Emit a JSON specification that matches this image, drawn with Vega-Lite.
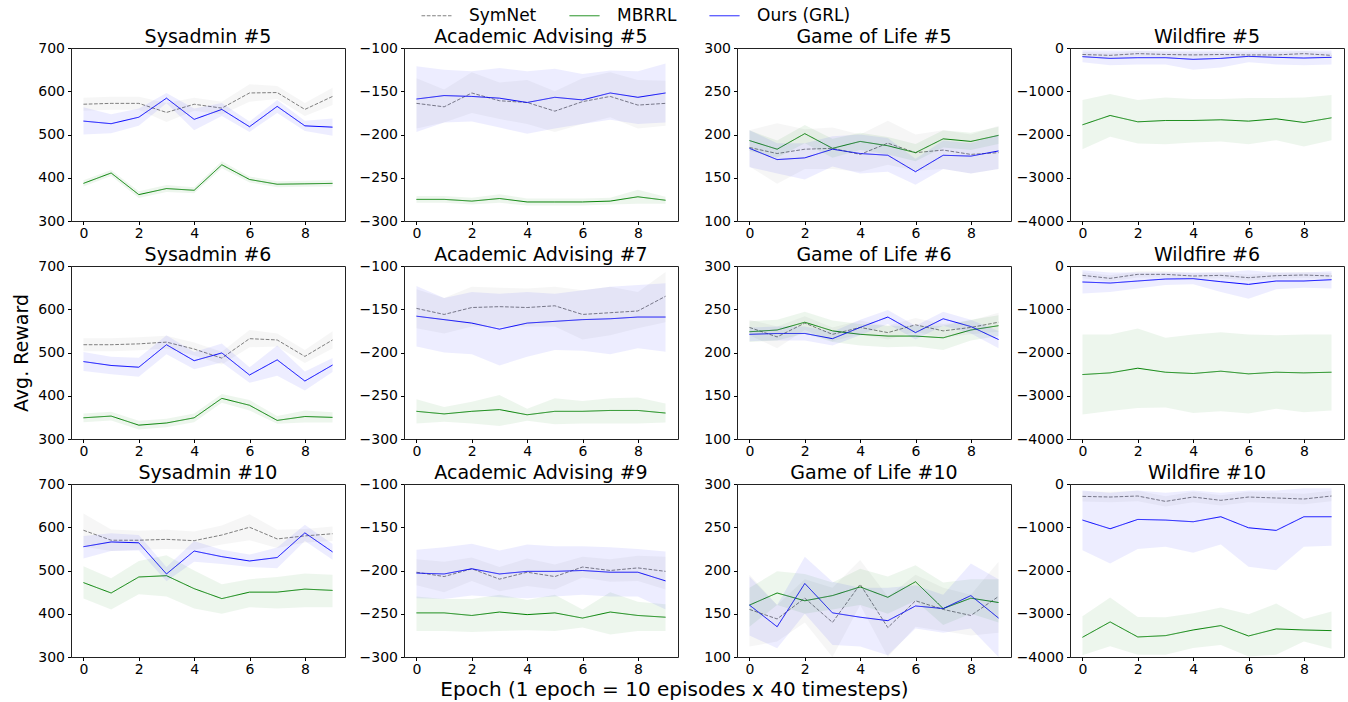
{
"$schema": "https://vega.github.io/schema/vega-lite/v6.json",
"padding": {"left": 12, "top": 0, "right": 5, "bottom": 0},
"config": {
  "font": "DejaVu Sans",
  "view": {"stroke": "#222", "strokeWidth": 1},
  "axis": {"domain": false, "grid": false, "tickColor": "#000", "tickSize": 3.5, "labelFontSize": 14, "labelColor": "#000", "labelPadding": 3, "titleFontSize": 19, "titleFontWeight": "normal", "titleColor": "#000", "format": "d"},
  "axisX": {"labelPadding": 2},
  "title": {"fontSize": 19, "fontWeight": "normal", "offset": -6, "color": "#000", "frame": "group"}
},
"data": {"values": [
{"p":"Sysadmin #5","m":"SymNet","e":0,"v":570,"lo":555,"hi":585},
{"p":"Sysadmin #5","m":"SymNet","e":1,"v":572,"lo":557,"hi":587},
{"p":"Sysadmin #5","m":"SymNet","e":2,"v":572,"lo":557,"hi":587},
{"p":"Sysadmin #5","m":"SymNet","e":3,"v":551,"lo":529,"hi":573},
{"p":"Sysadmin #5","m":"SymNet","e":4,"v":570,"lo":555,"hi":585},
{"p":"Sysadmin #5","m":"SymNet","e":5,"v":561,"lo":546,"hi":576},
{"p":"Sysadmin #5","m":"SymNet","e":6,"v":596,"lo":576,"hi":616},
{"p":"Sysadmin #5","m":"SymNet","e":7,"v":597,"lo":582,"hi":612},
{"p":"Sysadmin #5","m":"SymNet","e":8,"v":558,"lo":543,"hi":573},
{"p":"Sysadmin #5","m":"SymNet","e":9,"v":588,"lo":568,"hi":608},
{"p":"Sysadmin #5","m":"MBRRL","e":0,"v":387,"lo":380,"hi":394},
{"p":"Sysadmin #5","m":"MBRRL","e":1,"v":411,"lo":404,"hi":418},
{"p":"Sysadmin #5","m":"MBRRL","e":2,"v":361,"lo":353,"hi":369},
{"p":"Sysadmin #5","m":"MBRRL","e":3,"v":375,"lo":367,"hi":383},
{"p":"Sysadmin #5","m":"MBRRL","e":4,"v":371,"lo":364,"hi":378},
{"p":"Sysadmin #5","m":"MBRRL","e":5,"v":430,"lo":422,"hi":438},
{"p":"Sysadmin #5","m":"MBRRL","e":6,"v":396,"lo":389,"hi":403},
{"p":"Sysadmin #5","m":"MBRRL","e":7,"v":385,"lo":378,"hi":392},
{"p":"Sysadmin #5","m":"MBRRL","e":8,"v":386,"lo":379,"hi":393},
{"p":"Sysadmin #5","m":"MBRRL","e":9,"v":387,"lo":380,"hi":394},
{"p":"Sysadmin #5","m":"Ours (GRL)","e":0,"v":531,"lo":500,"hi":563},
{"p":"Sysadmin #5","m":"Ours (GRL)","e":1,"v":525,"lo":503,"hi":547},
{"p":"Sysadmin #5","m":"Ours (GRL)","e":2,"v":540,"lo":520,"hi":560},
{"p":"Sysadmin #5","m":"Ours (GRL)","e":3,"v":584,"lo":572,"hi":596},
{"p":"Sysadmin #5","m":"Ours (GRL)","e":4,"v":535,"lo":510,"hi":560},
{"p":"Sysadmin #5","m":"Ours (GRL)","e":5,"v":558,"lo":543,"hi":573},
{"p":"Sysadmin #5","m":"Ours (GRL)","e":6,"v":518,"lo":506,"hi":530},
{"p":"Sysadmin #5","m":"Ours (GRL)","e":7,"v":565,"lo":550,"hi":580},
{"p":"Sysadmin #5","m":"Ours (GRL)","e":8,"v":520,"lo":508,"hi":532},
{"p":"Sysadmin #5","m":"Ours (GRL)","e":9,"v":517,"lo":497,"hi":537},
{"p":"Academic Advising #5","m":"SymNet","e":0,"v":-164,"lo":-193,"hi":-135},
{"p":"Academic Advising #5","m":"SymNet","e":1,"v":-168,"lo":-186,"hi":-148},
{"p":"Academic Advising #5","m":"SymNet","e":2,"v":-152,"lo":-175,"hi":-128},
{"p":"Academic Advising #5","m":"SymNet","e":3,"v":-161,"lo":-182,"hi":-140},
{"p":"Academic Advising #5","m":"SymNet","e":4,"v":-163,"lo":-188,"hi":-137},
{"p":"Academic Advising #5","m":"SymNet","e":5,"v":-173,"lo":-197,"hi":-150},
{"p":"Academic Advising #5","m":"SymNet","e":6,"v":-162,"lo":-188,"hi":-135},
{"p":"Academic Advising #5","m":"SymNet","e":7,"v":-156,"lo":-180,"hi":-128},
{"p":"Academic Advising #5","m":"SymNet","e":8,"v":-166,"lo":-193,"hi":-137},
{"p":"Academic Advising #5","m":"SymNet","e":9,"v":-164,"lo":-190,"hi":-138},
{"p":"Academic Advising #5","m":"MBRRL","e":0,"v":-275,"lo":-279,"hi":-271},
{"p":"Academic Advising #5","m":"MBRRL","e":1,"v":-275,"lo":-279,"hi":-271},
{"p":"Academic Advising #5","m":"MBRRL","e":2,"v":-277,"lo":-281,"hi":-273},
{"p":"Academic Advising #5","m":"MBRRL","e":3,"v":-274,"lo":-279,"hi":-269},
{"p":"Academic Advising #5","m":"MBRRL","e":4,"v":-278,"lo":-282,"hi":-274},
{"p":"Academic Advising #5","m":"MBRRL","e":5,"v":-278,"lo":-282,"hi":-274},
{"p":"Academic Advising #5","m":"MBRRL","e":6,"v":-278,"lo":-282,"hi":-274},
{"p":"Academic Advising #5","m":"MBRRL","e":7,"v":-277,"lo":-281,"hi":-273},
{"p":"Academic Advising #5","m":"MBRRL","e":8,"v":-272,"lo":-280,"hi":-264},
{"p":"Academic Advising #5","m":"MBRRL","e":9,"v":-276,"lo":-280,"hi":-272},
{"p":"Academic Advising #5","m":"Ours (GRL)","e":0,"v":-159,"lo":-197,"hi":-121},
{"p":"Academic Advising #5","m":"Ours (GRL)","e":1,"v":-155,"lo":-186,"hi":-125},
{"p":"Academic Advising #5","m":"Ours (GRL)","e":2,"v":-156,"lo":-185,"hi":-127},
{"p":"Academic Advising #5","m":"Ours (GRL)","e":3,"v":-158,"lo":-192,"hi":-123},
{"p":"Academic Advising #5","m":"Ours (GRL)","e":4,"v":-163,"lo":-199,"hi":-127},
{"p":"Academic Advising #5","m":"Ours (GRL)","e":5,"v":-157,"lo":-193,"hi":-124},
{"p":"Academic Advising #5","m":"Ours (GRL)","e":6,"v":-160,"lo":-188,"hi":-130},
{"p":"Academic Advising #5","m":"Ours (GRL)","e":7,"v":-152,"lo":-183,"hi":-126},
{"p":"Academic Advising #5","m":"Ours (GRL)","e":8,"v":-157,"lo":-188,"hi":-127},
{"p":"Academic Advising #5","m":"Ours (GRL)","e":9,"v":-152,"lo":-186,"hi":-118},
{"p":"Game of Life #5","m":"SymNet","e":0,"v":185,"lo":163,"hi":205},
{"p":"Game of Life #5","m":"SymNet","e":1,"v":178,"lo":143,"hi":213},
{"p":"Game of Life #5","m":"SymNet","e":2,"v":183,"lo":160,"hi":206},
{"p":"Game of Life #5","m":"SymNet","e":3,"v":184,"lo":160,"hi":208},
{"p":"Game of Life #5","m":"SymNet","e":4,"v":177,"lo":157,"hi":200},
{"p":"Game of Life #5","m":"SymNet","e":5,"v":190,"lo":165,"hi":216},
{"p":"Game of Life #5","m":"SymNet","e":6,"v":179,"lo":158,"hi":200},
{"p":"Game of Life #5","m":"SymNet","e":7,"v":182,"lo":160,"hi":205},
{"p":"Game of Life #5","m":"SymNet","e":8,"v":177,"lo":155,"hi":200},
{"p":"Game of Life #5","m":"SymNet","e":9,"v":179,"lo":160,"hi":210},
{"p":"Game of Life #5","m":"MBRRL","e":0,"v":193,"lo":181,"hi":205},
{"p":"Game of Life #5","m":"MBRRL","e":1,"v":183,"lo":173,"hi":193},
{"p":"Game of Life #5","m":"MBRRL","e":2,"v":201,"lo":190,"hi":211},
{"p":"Game of Life #5","m":"MBRRL","e":3,"v":184,"lo":173,"hi":195},
{"p":"Game of Life #5","m":"MBRRL","e":4,"v":192,"lo":182,"hi":202},
{"p":"Game of Life #5","m":"MBRRL","e":5,"v":187,"lo":177,"hi":197},
{"p":"Game of Life #5","m":"MBRRL","e":6,"v":179,"lo":169,"hi":189},
{"p":"Game of Life #5","m":"MBRRL","e":7,"v":195,"lo":185,"hi":205},
{"p":"Game of Life #5","m":"MBRRL","e":8,"v":192,"lo":182,"hi":202},
{"p":"Game of Life #5","m":"MBRRL","e":9,"v":199,"lo":189,"hi":209},
{"p":"Game of Life #5","m":"Ours (GRL)","e":0,"v":184,"lo":162,"hi":205},
{"p":"Game of Life #5","m":"Ours (GRL)","e":1,"v":171,"lo":155,"hi":190},
{"p":"Game of Life #5","m":"Ours (GRL)","e":2,"v":173,"lo":148,"hi":190},
{"p":"Game of Life #5","m":"Ours (GRL)","e":3,"v":183,"lo":163,"hi":198},
{"p":"Game of Life #5","m":"Ours (GRL)","e":4,"v":178,"lo":155,"hi":200},
{"p":"Game of Life #5","m":"Ours (GRL)","e":5,"v":176,"lo":157,"hi":196},
{"p":"Game of Life #5","m":"Ours (GRL)","e":6,"v":157,"lo":142,"hi":172},
{"p":"Game of Life #5","m":"Ours (GRL)","e":7,"v":176,"lo":160,"hi":193},
{"p":"Game of Life #5","m":"Ours (GRL)","e":8,"v":175,"lo":155,"hi":190},
{"p":"Game of Life #5","m":"Ours (GRL)","e":9,"v":181,"lo":160,"hi":200},
{"p":"Wildfire #5","m":"SymNet","e":0,"v":-150,"lo":-210,"hi":-90},
{"p":"Wildfire #5","m":"SymNet","e":1,"v":-170,"lo":-230,"hi":-110},
{"p":"Wildfire #5","m":"SymNet","e":2,"v":-130,"lo":-190,"hi":-70},
{"p":"Wildfire #5","m":"SymNet","e":3,"v":-150,"lo":-210,"hi":-90},
{"p":"Wildfire #5","m":"SymNet","e":4,"v":-160,"lo":-220,"hi":-100},
{"p":"Wildfire #5","m":"SymNet","e":5,"v":-150,"lo":-210,"hi":-90},
{"p":"Wildfire #5","m":"SymNet","e":6,"v":-160,"lo":-220,"hi":-100},
{"p":"Wildfire #5","m":"SymNet","e":7,"v":-160,"lo":-220,"hi":-100},
{"p":"Wildfire #5","m":"SymNet","e":8,"v":-130,"lo":-190,"hi":-70},
{"p":"Wildfire #5","m":"SymNet","e":9,"v":-170,"lo":-230,"hi":-110},
{"p":"Wildfire #5","m":"MBRRL","e":0,"v":-1776,"lo":-2340,"hi":-1205},
{"p":"Wildfire #5","m":"MBRRL","e":1,"v":-1560,"lo":-2054,"hi":-1065},
{"p":"Wildfire #5","m":"MBRRL","e":2,"v":-1707,"lo":-2208,"hi":-1205},
{"p":"Wildfire #5","m":"MBRRL","e":3,"v":-1676,"lo":-2224,"hi":-1143},
{"p":"Wildfire #5","m":"MBRRL","e":4,"v":-1676,"lo":-2185,"hi":-1181},
{"p":"Wildfire #5","m":"MBRRL","e":5,"v":-1660,"lo":-2162,"hi":-1181},
{"p":"Wildfire #5","m":"MBRRL","e":6,"v":-1691,"lo":-2224,"hi":-1158},
{"p":"Wildfire #5","m":"MBRRL","e":7,"v":-1637,"lo":-2131,"hi":-1158},
{"p":"Wildfire #5","m":"MBRRL","e":8,"v":-1722,"lo":-2278,"hi":-1143},
{"p":"Wildfire #5","m":"MBRRL","e":9,"v":-1614,"lo":-2131,"hi":-1089},
{"p":"Wildfire #5","m":"Ours (GRL)","e":0,"v":-200,"lo":-330,"hi":-50},
{"p":"Wildfire #5","m":"Ours (GRL)","e":1,"v":-240,"lo":-400,"hi":-60},
{"p":"Wildfire #5","m":"Ours (GRL)","e":2,"v":-224,"lo":-380,"hi":-60},
{"p":"Wildfire #5","m":"Ours (GRL)","e":3,"v":-224,"lo":-380,"hi":-60},
{"p":"Wildfire #5","m":"Ours (GRL)","e":4,"v":-262,"lo":-500,"hi":-60},
{"p":"Wildfire #5","m":"Ours (GRL)","e":5,"v":-240,"lo":-450,"hi":-60},
{"p":"Wildfire #5","m":"Ours (GRL)","e":6,"v":-193,"lo":-330,"hi":-50},
{"p":"Wildfire #5","m":"Ours (GRL)","e":7,"v":-216,"lo":-380,"hi":-50},
{"p":"Wildfire #5","m":"Ours (GRL)","e":8,"v":-232,"lo":-400,"hi":-60},
{"p":"Wildfire #5","m":"Ours (GRL)","e":9,"v":-216,"lo":-380,"hi":-60},
{"p":"Sysadmin #6","m":"SymNet","e":0,"v":518,"lo":503,"hi":533},
{"p":"Sysadmin #6","m":"SymNet","e":1,"v":518,"lo":503,"hi":533},
{"p":"Sysadmin #6","m":"SymNet","e":2,"v":520,"lo":505,"hi":535},
{"p":"Sysadmin #6","m":"SymNet","e":3,"v":524,"lo":509,"hi":539},
{"p":"Sysadmin #6","m":"SymNet","e":4,"v":508,"lo":493,"hi":523},
{"p":"Sysadmin #6","m":"SymNet","e":5,"v":487,"lo":472,"hi":502},
{"p":"Sysadmin #6","m":"SymNet","e":6,"v":532,"lo":512,"hi":552},
{"p":"Sysadmin #6","m":"SymNet","e":7,"v":529,"lo":514,"hi":544},
{"p":"Sysadmin #6","m":"SymNet","e":8,"v":491,"lo":476,"hi":506},
{"p":"Sysadmin #6","m":"SymNet","e":9,"v":529,"lo":509,"hi":549},
{"p":"Sysadmin #6","m":"MBRRL","e":0,"v":349,"lo":339,"hi":359},
{"p":"Sysadmin #6","m":"MBRRL","e":1,"v":353,"lo":343,"hi":363},
{"p":"Sysadmin #6","m":"MBRRL","e":2,"v":332,"lo":322,"hi":342},
{"p":"Sysadmin #6","m":"MBRRL","e":3,"v":337,"lo":327,"hi":347},
{"p":"Sysadmin #6","m":"MBRRL","e":4,"v":349,"lo":339,"hi":359},
{"p":"Sysadmin #6","m":"MBRRL","e":5,"v":394,"lo":384,"hi":404},
{"p":"Sysadmin #6","m":"MBRRL","e":6,"v":378,"lo":366,"hi":390},
{"p":"Sysadmin #6","m":"MBRRL","e":7,"v":343,"lo":335,"hi":353},
{"p":"Sysadmin #6","m":"MBRRL","e":8,"v":352,"lo":338,"hi":366},
{"p":"Sysadmin #6","m":"MBRRL","e":9,"v":350,"lo":338,"hi":362},
{"p":"Sysadmin #6","m":"Ours (GRL)","e":0,"v":479,"lo":457,"hi":501},
{"p":"Sysadmin #6","m":"Ours (GRL)","e":1,"v":470,"lo":450,"hi":490},
{"p":"Sysadmin #6","m":"Ours (GRL)","e":2,"v":466,"lo":444,"hi":488},
{"p":"Sysadmin #6","m":"Ours (GRL)","e":3,"v":518,"lo":496,"hi":540},
{"p":"Sysadmin #6","m":"Ours (GRL)","e":4,"v":481,"lo":461,"hi":501},
{"p":"Sysadmin #6","m":"Ours (GRL)","e":5,"v":499,"lo":477,"hi":521},
{"p":"Sysadmin #6","m":"Ours (GRL)","e":6,"v":448,"lo":430,"hi":466},
{"p":"Sysadmin #6","m":"Ours (GRL)","e":7,"v":483,"lo":446,"hi":516},
{"p":"Sysadmin #6","m":"Ours (GRL)","e":8,"v":434,"lo":412,"hi":456},
{"p":"Sysadmin #6","m":"Ours (GRL)","e":9,"v":471,"lo":455,"hi":487},
{"p":"Academic Advising #7","m":"SymNet","e":0,"v":-149,"lo":-172,"hi":-127},
{"p":"Academic Advising #7","m":"SymNet","e":1,"v":-156,"lo":-178,"hi":-137},
{"p":"Academic Advising #7","m":"SymNet","e":2,"v":-148,"lo":-170,"hi":-124},
{"p":"Academic Advising #7","m":"SymNet","e":3,"v":-147,"lo":-170,"hi":-125},
{"p":"Academic Advising #7","m":"SymNet","e":4,"v":-148,"lo":-170,"hi":-126},
{"p":"Academic Advising #7","m":"SymNet","e":5,"v":-146,"lo":-170,"hi":-124},
{"p":"Academic Advising #7","m":"SymNet","e":6,"v":-156,"lo":-185,"hi":-128},
{"p":"Academic Advising #7","m":"SymNet","e":7,"v":-154,"lo":-180,"hi":-124},
{"p":"Academic Advising #7","m":"SymNet","e":8,"v":-152,"lo":-172,"hi":-130},
{"p":"Academic Advising #7","m":"SymNet","e":9,"v":-135,"lo":-165,"hi":-107},
{"p":"Academic Advising #7","m":"MBRRL","e":0,"v":-268,"lo":-282,"hi":-254},
{"p":"Academic Advising #7","m":"MBRRL","e":1,"v":-271,"lo":-280,"hi":-263},
{"p":"Academic Advising #7","m":"MBRRL","e":2,"v":-268,"lo":-282,"hi":-257},
{"p":"Academic Advising #7","m":"MBRRL","e":3,"v":-266,"lo":-285,"hi":-249},
{"p":"Academic Advising #7","m":"MBRRL","e":4,"v":-272,"lo":-279,"hi":-265},
{"p":"Academic Advising #7","m":"MBRRL","e":5,"v":-268,"lo":-283,"hi":-253},
{"p":"Academic Advising #7","m":"MBRRL","e":6,"v":-268,"lo":-282,"hi":-256},
{"p":"Academic Advising #7","m":"MBRRL","e":7,"v":-267,"lo":-282,"hi":-253},
{"p":"Academic Advising #7","m":"MBRRL","e":8,"v":-267,"lo":-282,"hi":-252},
{"p":"Academic Advising #7","m":"MBRRL","e":9,"v":-270,"lo":-281,"hi":-259},
{"p":"Academic Advising #7","m":"Ours (GRL)","e":0,"v":-158,"lo":-193,"hi":-123},
{"p":"Academic Advising #7","m":"Ours (GRL)","e":1,"v":-162,"lo":-200,"hi":-137},
{"p":"Academic Advising #7","m":"Ours (GRL)","e":2,"v":-166,"lo":-202,"hi":-130},
{"p":"Academic Advising #7","m":"Ours (GRL)","e":3,"v":-173,"lo":-215,"hi":-132},
{"p":"Academic Advising #7","m":"Ours (GRL)","e":4,"v":-166,"lo":-205,"hi":-130},
{"p":"Academic Advising #7","m":"Ours (GRL)","e":5,"v":-164,"lo":-197,"hi":-132},
{"p":"Academic Advising #7","m":"Ours (GRL)","e":6,"v":-162,"lo":-198,"hi":-128},
{"p":"Academic Advising #7","m":"Ours (GRL)","e":7,"v":-161,"lo":-202,"hi":-124},
{"p":"Academic Advising #7","m":"Ours (GRL)","e":8,"v":-159,"lo":-195,"hi":-122},
{"p":"Academic Advising #7","m":"Ours (GRL)","e":9,"v":-159,"lo":-199,"hi":-120},
{"p":"Game of Life #6","m":"SymNet","e":0,"v":229,"lo":220,"hi":238},
{"p":"Game of Life #6","m":"SymNet","e":1,"v":218,"lo":205,"hi":230},
{"p":"Game of Life #6","m":"SymNet","e":2,"v":234,"lo":226,"hi":242},
{"p":"Game of Life #6","m":"SymNet","e":3,"v":221,"lo":213,"hi":229},
{"p":"Game of Life #6","m":"SymNet","e":4,"v":229,"lo":221,"hi":237},
{"p":"Game of Life #6","m":"SymNet","e":5,"v":223,"lo":215,"hi":231},
{"p":"Game of Life #6","m":"SymNet","e":6,"v":232,"lo":224,"hi":240},
{"p":"Game of Life #6","m":"SymNet","e":7,"v":225,"lo":217,"hi":233},
{"p":"Game of Life #6","m":"SymNet","e":8,"v":229,"lo":221,"hi":237},
{"p":"Game of Life #6","m":"SymNet","e":9,"v":235,"lo":224,"hi":246},
{"p":"Game of Life #6","m":"MBRRL","e":0,"v":224,"lo":212,"hi":236},
{"p":"Game of Life #6","m":"MBRRL","e":1,"v":226,"lo":214,"hi":238},
{"p":"Game of Life #6","m":"MBRRL","e":2,"v":235,"lo":222,"hi":247},
{"p":"Game of Life #6","m":"MBRRL","e":3,"v":225,"lo":212,"hi":237},
{"p":"Game of Life #6","m":"MBRRL","e":4,"v":221,"lo":208,"hi":233},
{"p":"Game of Life #6","m":"MBRRL","e":5,"v":219,"lo":206,"hi":231},
{"p":"Game of Life #6","m":"MBRRL","e":6,"v":219,"lo":207,"hi":231},
{"p":"Game of Life #6","m":"MBRRL","e":7,"v":217,"lo":203,"hi":231},
{"p":"Game of Life #6","m":"MBRRL","e":8,"v":226,"lo":214,"hi":238},
{"p":"Game of Life #6","m":"MBRRL","e":9,"v":231,"lo":219,"hi":243},
{"p":"Game of Life #6","m":"Ours (GRL)","e":0,"v":221,"lo":213,"hi":229},
{"p":"Game of Life #6","m":"Ours (GRL)","e":1,"v":222,"lo":214,"hi":230},
{"p":"Game of Life #6","m":"Ours (GRL)","e":2,"v":222,"lo":214,"hi":230},
{"p":"Game of Life #6","m":"Ours (GRL)","e":3,"v":216,"lo":208,"hi":224},
{"p":"Game of Life #6","m":"Ours (GRL)","e":4,"v":229,"lo":220,"hi":238},
{"p":"Game of Life #6","m":"Ours (GRL)","e":5,"v":241,"lo":233,"hi":249},
{"p":"Game of Life #6","m":"Ours (GRL)","e":6,"v":223,"lo":215,"hi":231},
{"p":"Game of Life #6","m":"Ours (GRL)","e":7,"v":239,"lo":231,"hi":247},
{"p":"Game of Life #6","m":"Ours (GRL)","e":8,"v":230,"lo":222,"hi":238},
{"p":"Game of Life #6","m":"Ours (GRL)","e":9,"v":215,"lo":205,"hi":225},
{"p":"Wildfire #6","m":"SymNet","e":0,"v":-216,"lo":-286,"hi":-146},
{"p":"Wildfire #6","m":"SymNet","e":1,"v":-286,"lo":-356,"hi":-216},
{"p":"Wildfire #6","m":"SymNet","e":2,"v":-193,"lo":-263,"hi":-123},
{"p":"Wildfire #6","m":"SymNet","e":3,"v":-193,"lo":-263,"hi":-123},
{"p":"Wildfire #6","m":"SymNet","e":4,"v":-232,"lo":-302,"hi":-162},
{"p":"Wildfire #6","m":"SymNet","e":5,"v":-216,"lo":-286,"hi":-146},
{"p":"Wildfire #6","m":"SymNet","e":6,"v":-270,"lo":-340,"hi":-200},
{"p":"Wildfire #6","m":"SymNet","e":7,"v":-224,"lo":-294,"hi":-154},
{"p":"Wildfire #6","m":"SymNet","e":8,"v":-208,"lo":-278,"hi":-138},
{"p":"Wildfire #6","m":"SymNet","e":9,"v":-232,"lo":-302,"hi":-162},
{"p":"Wildfire #6","m":"MBRRL","e":0,"v":-2510,"lo":-3436,"hi":-1583},
{"p":"Wildfire #6","m":"MBRRL","e":1,"v":-2471,"lo":-3350,"hi":-1583},
{"p":"Wildfire #6","m":"MBRRL","e":2,"v":-2363,"lo":-3282,"hi":-1444},
{"p":"Wildfire #6","m":"MBRRL","e":3,"v":-2456,"lo":-3270,"hi":-1660},
{"p":"Wildfire #6","m":"MBRRL","e":4,"v":-2486,"lo":-3400,"hi":-1583},
{"p":"Wildfire #6","m":"MBRRL","e":5,"v":-2432,"lo":-3360,"hi":-1530},
{"p":"Wildfire #6","m":"MBRRL","e":6,"v":-2494,"lo":-3410,"hi":-1583},
{"p":"Wildfire #6","m":"MBRRL","e":7,"v":-2456,"lo":-3300,"hi":-1600},
{"p":"Wildfire #6","m":"MBRRL","e":8,"v":-2471,"lo":-3380,"hi":-1583},
{"p":"Wildfire #6","m":"MBRRL","e":9,"v":-2456,"lo":-3340,"hi":-1583},
{"p":"Wildfire #6","m":"Ours (GRL)","e":0,"v":-370,"lo":-633,"hi":-100},
{"p":"Wildfire #6","m":"Ours (GRL)","e":1,"v":-394,"lo":-600,"hi":-150},
{"p":"Wildfire #6","m":"Ours (GRL)","e":2,"v":-347,"lo":-520,"hi":-150},
{"p":"Wildfire #6","m":"Ours (GRL)","e":3,"v":-301,"lo":-440,"hi":-150},
{"p":"Wildfire #6","m":"Ours (GRL)","e":4,"v":-293,"lo":-420,"hi":-150},
{"p":"Wildfire #6","m":"Ours (GRL)","e":5,"v":-363,"lo":-600,"hi":-150},
{"p":"Wildfire #6","m":"Ours (GRL)","e":6,"v":-425,"lo":-757,"hi":-100},
{"p":"Wildfire #6","m":"Ours (GRL)","e":7,"v":-347,"lo":-540,"hi":-150},
{"p":"Wildfire #6","m":"Ours (GRL)","e":8,"v":-347,"lo":-500,"hi":-150},
{"p":"Wildfire #6","m":"Ours (GRL)","e":9,"v":-317,"lo":-520,"hi":-120},
{"p":"Sysadmin #10","m":"SymNet","e":0,"v":593,"lo":555,"hi":632},
{"p":"Sysadmin #10","m":"SymNet","e":1,"v":570,"lo":545,"hi":595},
{"p":"Sysadmin #10","m":"SymNet","e":2,"v":570,"lo":548,"hi":592},
{"p":"Sysadmin #10","m":"SymNet","e":3,"v":572,"lo":550,"hi":594},
{"p":"Sysadmin #10","m":"SymNet","e":4,"v":569,"lo":548,"hi":590},
{"p":"Sysadmin #10","m":"SymNet","e":5,"v":582,"lo":560,"hi":604},
{"p":"Sysadmin #10","m":"SymNet","e":6,"v":600,"lo":570,"hi":630},
{"p":"Sysadmin #10","m":"SymNet","e":7,"v":573,"lo":552,"hi":594},
{"p":"Sysadmin #10","m":"SymNet","e":8,"v":580,"lo":565,"hi":596},
{"p":"Sysadmin #10","m":"SymNet","e":9,"v":585,"lo":568,"hi":602},
{"p":"Sysadmin #10","m":"MBRRL","e":0,"v":472,"lo":435,"hi":510},
{"p":"Sysadmin #10","m":"MBRRL","e":1,"v":448,"lo":410,"hi":482},
{"p":"Sysadmin #10","m":"MBRRL","e":2,"v":485,"lo":445,"hi":522},
{"p":"Sysadmin #10","m":"MBRRL","e":3,"v":488,"lo":440,"hi":535},
{"p":"Sysadmin #10","m":"MBRRL","e":4,"v":458,"lo":412,"hi":500},
{"p":"Sysadmin #10","m":"MBRRL","e":5,"v":435,"lo":400,"hi":468},
{"p":"Sysadmin #10","m":"MBRRL","e":6,"v":450,"lo":415,"hi":480},
{"p":"Sysadmin #10","m":"MBRRL","e":7,"v":450,"lo":412,"hi":485},
{"p":"Sysadmin #10","m":"MBRRL","e":8,"v":457,"lo":415,"hi":493},
{"p":"Sysadmin #10","m":"MBRRL","e":9,"v":454,"lo":415,"hi":490},
{"p":"Sysadmin #10","m":"Ours (GRL)","e":0,"v":555,"lo":528,"hi":580},
{"p":"Sysadmin #10","m":"Ours (GRL)","e":1,"v":566,"lo":545,"hi":586},
{"p":"Sysadmin #10","m":"Ours (GRL)","e":2,"v":564,"lo":546,"hi":582},
{"p":"Sysadmin #10","m":"Ours (GRL)","e":3,"v":492,"lo":475,"hi":508},
{"p":"Sysadmin #10","m":"Ours (GRL)","e":4,"v":545,"lo":520,"hi":568},
{"p":"Sysadmin #10","m":"Ours (GRL)","e":5,"v":532,"lo":515,"hi":548},
{"p":"Sysadmin #10","m":"Ours (GRL)","e":6,"v":522,"lo":508,"hi":537},
{"p":"Sysadmin #10","m":"Ours (GRL)","e":7,"v":530,"lo":505,"hi":553},
{"p":"Sysadmin #10","m":"Ours (GRL)","e":8,"v":587,"lo":568,"hi":606},
{"p":"Sysadmin #10","m":"Ours (GRL)","e":9,"v":543,"lo":525,"hi":561},
{"p":"Academic Advising #9","m":"SymNet","e":0,"v":-202,"lo":-217,"hi":-187},
{"p":"Academic Advising #9","m":"SymNet","e":1,"v":-207,"lo":-225,"hi":-190},
{"p":"Academic Advising #9","m":"SymNet","e":2,"v":-198,"lo":-212,"hi":-185},
{"p":"Academic Advising #9","m":"SymNet","e":3,"v":-210,"lo":-224,"hi":-196},
{"p":"Academic Advising #9","m":"SymNet","e":4,"v":-202,"lo":-218,"hi":-186},
{"p":"Academic Advising #9","m":"SymNet","e":5,"v":-207,"lo":-222,"hi":-193},
{"p":"Academic Advising #9","m":"SymNet","e":6,"v":-196,"lo":-208,"hi":-184},
{"p":"Academic Advising #9","m":"SymNet","e":7,"v":-200,"lo":-213,"hi":-187},
{"p":"Academic Advising #9","m":"SymNet","e":8,"v":-197,"lo":-212,"hi":-183},
{"p":"Academic Advising #9","m":"SymNet","e":9,"v":-201,"lo":-222,"hi":-184},
{"p":"Academic Advising #9","m":"MBRRL","e":0,"v":-249,"lo":-270,"hi":-230},
{"p":"Academic Advising #9","m":"MBRRL","e":1,"v":-249,"lo":-270,"hi":-233},
{"p":"Academic Advising #9","m":"MBRRL","e":2,"v":-252,"lo":-271,"hi":-233},
{"p":"Academic Advising #9","m":"MBRRL","e":3,"v":-248,"lo":-270,"hi":-228},
{"p":"Academic Advising #9","m":"MBRRL","e":4,"v":-251,"lo":-269,"hi":-234},
{"p":"Academic Advising #9","m":"MBRRL","e":5,"v":-249,"lo":-270,"hi":-228},
{"p":"Academic Advising #9","m":"MBRRL","e":6,"v":-255,"lo":-266,"hi":-245},
{"p":"Academic Advising #9","m":"MBRRL","e":7,"v":-248,"lo":-274,"hi":-225},
{"p":"Academic Advising #9","m":"MBRRL","e":8,"v":-252,"lo":-270,"hi":-236},
{"p":"Academic Advising #9","m":"MBRRL","e":9,"v":-254,"lo":-270,"hi":-239},
{"p":"Academic Advising #9","m":"Ours (GRL)","e":0,"v":-203,"lo":-232,"hi":-176},
{"p":"Academic Advising #9","m":"Ours (GRL)","e":1,"v":-204,"lo":-233,"hi":-173},
{"p":"Academic Advising #9","m":"Ours (GRL)","e":2,"v":-198,"lo":-229,"hi":-169},
{"p":"Academic Advising #9","m":"Ours (GRL)","e":3,"v":-204,"lo":-231,"hi":-177},
{"p":"Academic Advising #9","m":"Ours (GRL)","e":4,"v":-201,"lo":-232,"hi":-170},
{"p":"Academic Advising #9","m":"Ours (GRL)","e":5,"v":-201,"lo":-230,"hi":-172},
{"p":"Academic Advising #9","m":"Ours (GRL)","e":6,"v":-200,"lo":-228,"hi":-172},
{"p":"Academic Advising #9","m":"Ours (GRL)","e":7,"v":-202,"lo":-230,"hi":-173},
{"p":"Academic Advising #9","m":"Ours (GRL)","e":8,"v":-202,"lo":-230,"hi":-175},
{"p":"Academic Advising #9","m":"Ours (GRL)","e":9,"v":-212,"lo":-245,"hi":-178},
{"p":"Game of Life #10","m":"SymNet","e":0,"v":155,"lo":112,"hi":195},
{"p":"Game of Life #10","m":"SymNet","e":1,"v":144,"lo":118,"hi":160},
{"p":"Game of Life #10","m":"SymNet","e":2,"v":168,"lo":140,"hi":190},
{"p":"Game of Life #10","m":"SymNet","e":3,"v":140,"lo":100,"hi":180},
{"p":"Game of Life #10","m":"SymNet","e":4,"v":184,"lo":160,"hi":212},
{"p":"Game of Life #10","m":"SymNet","e":5,"v":134,"lo":100,"hi":170},
{"p":"Game of Life #10","m":"SymNet","e":6,"v":165,"lo":135,"hi":195},
{"p":"Game of Life #10","m":"SymNet","e":7,"v":155,"lo":130,"hi":180},
{"p":"Game of Life #10","m":"SymNet","e":8,"v":148,"lo":125,"hi":172},
{"p":"Game of Life #10","m":"SymNet","e":9,"v":170,"lo":128,"hi":210},
{"p":"Game of Life #10","m":"MBRRL","e":0,"v":160,"lo":135,"hi":180},
{"p":"Game of Life #10","m":"MBRRL","e":1,"v":174,"lo":160,"hi":199},
{"p":"Game of Life #10","m":"MBRRL","e":2,"v":165,"lo":150,"hi":196},
{"p":"Game of Life #10","m":"MBRRL","e":3,"v":171,"lo":155,"hi":186},
{"p":"Game of Life #10","m":"MBRRL","e":4,"v":181,"lo":160,"hi":202},
{"p":"Game of Life #10","m":"MBRRL","e":5,"v":169,"lo":150,"hi":193},
{"p":"Game of Life #10","m":"MBRRL","e":6,"v":187,"lo":165,"hi":206},
{"p":"Game of Life #10","m":"MBRRL","e":7,"v":156,"lo":137,"hi":186},
{"p":"Game of Life #10","m":"MBRRL","e":8,"v":168,"lo":150,"hi":190},
{"p":"Game of Life #10","m":"MBRRL","e":9,"v":163,"lo":140,"hi":190},
{"p":"Game of Life #10","m":"Ours (GRL)","e":0,"v":160,"lo":125,"hi":193},
{"p":"Game of Life #10","m":"Ours (GRL)","e":1,"v":135,"lo":110,"hi":160},
{"p":"Game of Life #10","m":"Ours (GRL)","e":2,"v":185,"lo":150,"hi":216},
{"p":"Game of Life #10","m":"Ours (GRL)","e":3,"v":151,"lo":114,"hi":187},
{"p":"Game of Life #10","m":"Ours (GRL)","e":4,"v":146,"lo":112,"hi":180},
{"p":"Game of Life #10","m":"Ours (GRL)","e":5,"v":142,"lo":102,"hi":180},
{"p":"Game of Life #10","m":"Ours (GRL)","e":6,"v":159,"lo":133,"hi":183},
{"p":"Game of Life #10","m":"Ours (GRL)","e":7,"v":156,"lo":128,"hi":172},
{"p":"Game of Life #10","m":"Ours (GRL)","e":8,"v":171,"lo":133,"hi":208},
{"p":"Game of Life #10","m":"Ours (GRL)","e":9,"v":145,"lo":100,"hi":190},
{"p":"Wildfire #10","m":"SymNet","e":0,"v":-286,"lo":-406,"hi":-166},
{"p":"Wildfire #10","m":"SymNet","e":1,"v":-301,"lo":-421,"hi":-181},
{"p":"Wildfire #10","m":"SymNet","e":2,"v":-278,"lo":-398,"hi":-158},
{"p":"Wildfire #10","m":"SymNet","e":3,"v":-402,"lo":-522,"hi":-282},
{"p":"Wildfire #10","m":"SymNet","e":4,"v":-301,"lo":-421,"hi":-181},
{"p":"Wildfire #10","m":"SymNet","e":5,"v":-378,"lo":-498,"hi":-258},
{"p":"Wildfire #10","m":"SymNet","e":6,"v":-301,"lo":-421,"hi":-181},
{"p":"Wildfire #10","m":"SymNet","e":7,"v":-324,"lo":-444,"hi":-204},
{"p":"Wildfire #10","m":"SymNet","e":8,"v":-347,"lo":-467,"hi":-227},
{"p":"Wildfire #10","m":"SymNet","e":9,"v":-278,"lo":-398,"hi":-158},
{"p":"Wildfire #10","m":"MBRRL","e":0,"v":-3544,"lo":-3961,"hi":-3058},
{"p":"Wildfire #10","m":"MBRRL","e":1,"v":-3189,"lo":-3753,"hi":-2625},
{"p":"Wildfire #10","m":"MBRRL","e":2,"v":-3537,"lo":-3950,"hi":-3073},
{"p":"Wildfire #10","m":"MBRRL","e":3,"v":-3506,"lo":-3950,"hi":-3080},
{"p":"Wildfire #10","m":"MBRRL","e":4,"v":-3375,"lo":-3790,"hi":-2990},
{"p":"Wildfire #10","m":"MBRRL","e":5,"v":-3274,"lo":-3720,"hi":-2857},
{"p":"Wildfire #10","m":"MBRRL","e":6,"v":-3514,"lo":-3990,"hi":-3010},
{"p":"Wildfire #10","m":"MBRRL","e":7,"v":-3351,"lo":-3950,"hi":-2764},
{"p":"Wildfire #10","m":"MBRRL","e":8,"v":-3375,"lo":-3640,"hi":-3120},
{"p":"Wildfire #10","m":"MBRRL","e":9,"v":-3390,"lo":-3810,"hi":-2950},
{"p":"Wildfire #10","m":"Ours (GRL)","e":0,"v":-834,"lo":-1529,"hi":-150},
{"p":"Wildfire #10","m":"Ours (GRL)","e":1,"v":-1035,"lo":-1838,"hi":-200},
{"p":"Wildfire #10","m":"Ours (GRL)","e":2,"v":-819,"lo":-1500,"hi":-150},
{"p":"Wildfire #10","m":"Ours (GRL)","e":3,"v":-834,"lo":-1450,"hi":-200},
{"p":"Wildfire #10","m":"Ours (GRL)","e":4,"v":-873,"lo":-1590,"hi":-150},
{"p":"Wildfire #10","m":"Ours (GRL)","e":5,"v":-757,"lo":-1400,"hi":-200},
{"p":"Wildfire #10","m":"Ours (GRL)","e":6,"v":-1012,"lo":-1915,"hi":-150},
{"p":"Wildfire #10","m":"Ours (GRL)","e":7,"v":-1073,"lo":-1992,"hi":-150},
{"p":"Wildfire #10","m":"Ours (GRL)","e":8,"v":-757,"lo":-1450,"hi":-100},
{"p":"Wildfire #10","m":"Ours (GRL)","e":9,"v":-757,"lo":-1430,"hi":-100}
]},
"columns": 4,
"bounds": "flush",
"spacing": {"row": 45, "column": 59},
"resolve": {"scale": {"x": "independent", "y": "independent"}},
"concat": [
{"title": "Sysadmin #5", "width": 274, "height": 173,
 "transform": [{"filter": "datum.p === 'Sysadmin #5'"}],
 "encoding": {"x": {"field": "e", "type": "quantitative", "scale": {"domain": [-0.45, 9.45], "nice": false, "zero": false}, "axis": {"values": [0,2,4,6,8], "title": null}}},
 "layer": [
  {"mark": {"type": "line", "strokeWidth": 1, "clip": true}, "encoding": {"y": {"field": "v", "type": "quantitative", "scale": {"domain": [300,700], "nice": false, "zero": false}, "axis": {"values": [300,400,500,600,700], "title": null}}, "color": {"field": "m", "type": "nominal", "scale": {"domain": ["SymNet","MBRRL","Ours (GRL)"], "range": ["#808080","#008000","#0000FF"]}, "legend": {"orient": "none", "legendX": 350, "legendY": -48, "direction": "horizontal", "title": null, "symbolType": "stroke", "symbolSize": 900, "symbolStrokeWidth": 1, "symbolOpacity": 1, "symbolFillColor": "transparent", "labelFontSize": 17, "labelOffset": 17, "columnPadding": 30}}, "strokeDash": {"field": "m", "type": "nominal", "scale": {"domain": ["SymNet","MBRRL","Ours (GRL)"], "range": [[3.7,1.6],[1,0],[1,0]]}, "legend": {"orient": "none", "legendX": 350, "legendY": -48, "direction": "horizontal", "title": null, "symbolType": "stroke", "symbolSize": 900, "symbolStrokeWidth": 1, "symbolOpacity": 1, "symbolFillColor": "transparent", "labelFontSize": 17, "labelOffset": 17, "columnPadding": 30}}}},
  {"mark": {"type": "area", "fillOpacity": 0.07, "clip": true}, "encoding": {"y": {"field": "lo", "type": "quantitative", "stack": null}, "y2": {"field": "hi"}, "color": {"field": "m", "type": "nominal"}}}
 ]},
{"title": "Academic Advising #5", "width": 274, "height": 173,
 "transform": [{"filter": "datum.p === 'Academic Advising #5'"}],
 "encoding": {"x": {"field": "e", "type": "quantitative", "scale": {"domain": [-0.45, 9.45], "nice": false, "zero": false}, "axis": {"values": [0,2,4,6,8], "title": null}}},
 "layer": [
  {"mark": {"type": "line", "strokeWidth": 1, "clip": true}, "encoding": {"y": {"field": "v", "type": "quantitative", "scale": {"domain": [-300,-100], "nice": false, "zero": false}, "axis": {"values": [-300,-250,-200,-150,-100], "title": null}}, "color": {"field": "m", "type": "nominal"}, "strokeDash": {"field": "m", "type": "nominal"}}},
  {"mark": {"type": "area", "fillOpacity": 0.07, "clip": true}, "encoding": {"y": {"field": "lo", "type": "quantitative", "stack": null}, "y2": {"field": "hi"}, "color": {"field": "m", "type": "nominal"}}}
 ]},
{"title": "Game of Life #5", "width": 274, "height": 173,
 "transform": [{"filter": "datum.p === 'Game of Life #5'"}],
 "encoding": {"x": {"field": "e", "type": "quantitative", "scale": {"domain": [-0.45, 9.45], "nice": false, "zero": false}, "axis": {"values": [0,2,4,6,8], "title": null}}},
 "layer": [
  {"mark": {"type": "line", "strokeWidth": 1, "clip": true}, "encoding": {"y": {"field": "v", "type": "quantitative", "scale": {"domain": [100,300], "nice": false, "zero": false}, "axis": {"values": [100,150,200,250,300], "title": null}}, "color": {"field": "m", "type": "nominal"}, "strokeDash": {"field": "m", "type": "nominal"}}},
  {"mark": {"type": "area", "fillOpacity": 0.07, "clip": true}, "encoding": {"y": {"field": "lo", "type": "quantitative", "stack": null}, "y2": {"field": "hi"}, "color": {"field": "m", "type": "nominal"}}}
 ]},
{"title": "Wildfire #5", "width": 274, "height": 173,
 "transform": [{"filter": "datum.p === 'Wildfire #5'"}],
 "encoding": {"x": {"field": "e", "type": "quantitative", "scale": {"domain": [-0.45, 9.45], "nice": false, "zero": false}, "axis": {"values": [0,2,4,6,8], "title": null}}},
 "layer": [
  {"mark": {"type": "line", "strokeWidth": 1, "clip": true}, "encoding": {"y": {"field": "v", "type": "quantitative", "scale": {"domain": [-4000,0], "nice": false, "zero": false}, "axis": {"values": [-4000,-3000,-2000,-1000,0], "title": null}}, "color": {"field": "m", "type": "nominal"}, "strokeDash": {"field": "m", "type": "nominal"}}},
  {"mark": {"type": "area", "fillOpacity": 0.07, "clip": true}, "encoding": {"y": {"field": "lo", "type": "quantitative", "stack": null}, "y2": {"field": "hi"}, "color": {"field": "m", "type": "nominal"}}}
 ]},
{"title": "Sysadmin #6", "width": 274, "height": 173,
 "transform": [{"filter": "datum.p === 'Sysadmin #6'"}],
 "encoding": {"x": {"field": "e", "type": "quantitative", "scale": {"domain": [-0.45, 9.45], "nice": false, "zero": false}, "axis": {"values": [0,2,4,6,8], "title": null}}},
 "layer": [
  {"mark": {"type": "line", "strokeWidth": 1, "clip": true}, "encoding": {"y": {"field": "v", "type": "quantitative", "scale": {"domain": [300,700], "nice": false, "zero": false}, "axis": {"values": [300,400,500,600,700], "title": "Avg. Reward", "titlePadding": 6}}, "color": {"field": "m", "type": "nominal"}, "strokeDash": {"field": "m", "type": "nominal"}}},
  {"mark": {"type": "area", "fillOpacity": 0.07, "clip": true}, "encoding": {"y": {"field": "lo", "type": "quantitative", "stack": null, "axis": {"title": "Avg. Reward", "titlePadding": 6}}, "y2": {"field": "hi"}, "color": {"field": "m", "type": "nominal"}}}
 ]},
{"title": "Academic Advising #7", "width": 274, "height": 173,
 "transform": [{"filter": "datum.p === 'Academic Advising #7'"}],
 "encoding": {"x": {"field": "e", "type": "quantitative", "scale": {"domain": [-0.45, 9.45], "nice": false, "zero": false}, "axis": {"values": [0,2,4,6,8], "title": null}}},
 "layer": [
  {"mark": {"type": "line", "strokeWidth": 1, "clip": true}, "encoding": {"y": {"field": "v", "type": "quantitative", "scale": {"domain": [-300,-100], "nice": false, "zero": false}, "axis": {"values": [-300,-250,-200,-150,-100], "title": null}}, "color": {"field": "m", "type": "nominal"}, "strokeDash": {"field": "m", "type": "nominal"}}},
  {"mark": {"type": "area", "fillOpacity": 0.07, "clip": true}, "encoding": {"y": {"field": "lo", "type": "quantitative", "stack": null}, "y2": {"field": "hi"}, "color": {"field": "m", "type": "nominal"}}}
 ]},
{"title": "Game of Life #6", "width": 274, "height": 173,
 "transform": [{"filter": "datum.p === 'Game of Life #6'"}],
 "encoding": {"x": {"field": "e", "type": "quantitative", "scale": {"domain": [-0.45, 9.45], "nice": false, "zero": false}, "axis": {"values": [0,2,4,6,8], "title": null}}},
 "layer": [
  {"mark": {"type": "line", "strokeWidth": 1, "clip": true}, "encoding": {"y": {"field": "v", "type": "quantitative", "scale": {"domain": [100,300], "nice": false, "zero": false}, "axis": {"values": [100,150,200,250,300], "title": null}}, "color": {"field": "m", "type": "nominal"}, "strokeDash": {"field": "m", "type": "nominal"}}},
  {"mark": {"type": "area", "fillOpacity": 0.07, "clip": true}, "encoding": {"y": {"field": "lo", "type": "quantitative", "stack": null}, "y2": {"field": "hi"}, "color": {"field": "m", "type": "nominal"}}}
 ]},
{"title": "Wildfire #6", "width": 274, "height": 173,
 "transform": [{"filter": "datum.p === 'Wildfire #6'"}],
 "encoding": {"x": {"field": "e", "type": "quantitative", "scale": {"domain": [-0.45, 9.45], "nice": false, "zero": false}, "axis": {"values": [0,2,4,6,8], "title": null}}},
 "layer": [
  {"mark": {"type": "line", "strokeWidth": 1, "clip": true}, "encoding": {"y": {"field": "v", "type": "quantitative", "scale": {"domain": [-4000,0], "nice": false, "zero": false}, "axis": {"values": [-4000,-3000,-2000,-1000,0], "title": null}}, "color": {"field": "m", "type": "nominal"}, "strokeDash": {"field": "m", "type": "nominal"}}},
  {"mark": {"type": "area", "fillOpacity": 0.07, "clip": true}, "encoding": {"y": {"field": "lo", "type": "quantitative", "stack": null}, "y2": {"field": "hi"}, "color": {"field": "m", "type": "nominal"}}}
 ]},
{"title": "Sysadmin #10", "width": 274, "height": 173,
 "transform": [{"filter": "datum.p === 'Sysadmin #10'"}],
 "encoding": {"x": {"field": "e", "type": "quantitative", "scale": {"domain": [-0.45, 9.45], "nice": false, "zero": false}, "axis": {"values": [0,2,4,6,8], "title": null}}},
 "layer": [
  {"mark": {"type": "line", "strokeWidth": 1, "clip": true}, "encoding": {"y": {"field": "v", "type": "quantitative", "scale": {"domain": [300,700], "nice": false, "zero": false}, "axis": {"values": [300,400,500,600,700], "title": null}}, "color": {"field": "m", "type": "nominal"}, "strokeDash": {"field": "m", "type": "nominal"}}},
  {"mark": {"type": "area", "fillOpacity": 0.07, "clip": true}, "encoding": {"y": {"field": "lo", "type": "quantitative", "stack": null}, "y2": {"field": "hi"}, "color": {"field": "m", "type": "nominal"}}}
 ]},
{"title": "Academic Advising #9", "width": 274, "height": 173,
 "transform": [{"filter": "datum.p === 'Academic Advising #9'"}],
 "encoding": {"x": {"field": "e", "type": "quantitative", "scale": {"domain": [-0.45, 9.45], "nice": false, "zero": false}, "axis": {"values": [0,2,4,6,8], "title": "Epoch (1 epoch = 10 episodes x 40 timesteps)", "titleX": 270, "titleAlign": "center", "titleFontSize": 20, "titlePadding": 3}}},
 "layer": [
  {"mark": {"type": "line", "strokeWidth": 1, "clip": true}, "encoding": {"y": {"field": "v", "type": "quantitative", "scale": {"domain": [-300,-100], "nice": false, "zero": false}, "axis": {"values": [-300,-250,-200,-150,-100], "title": null}}, "color": {"field": "m", "type": "nominal"}, "strokeDash": {"field": "m", "type": "nominal"}}},
  {"mark": {"type": "area", "fillOpacity": 0.07, "clip": true}, "encoding": {"y": {"field": "lo", "type": "quantitative", "stack": null}, "y2": {"field": "hi"}, "color": {"field": "m", "type": "nominal"}}}
 ]},
{"title": "Game of Life #10", "width": 274, "height": 173,
 "transform": [{"filter": "datum.p === 'Game of Life #10'"}],
 "encoding": {"x": {"field": "e", "type": "quantitative", "scale": {"domain": [-0.45, 9.45], "nice": false, "zero": false}, "axis": {"values": [0,2,4,6,8], "title": null}}},
 "layer": [
  {"mark": {"type": "line", "strokeWidth": 1, "clip": true}, "encoding": {"y": {"field": "v", "type": "quantitative", "scale": {"domain": [100,300], "nice": false, "zero": false}, "axis": {"values": [100,150,200,250,300], "title": null}}, "color": {"field": "m", "type": "nominal"}, "strokeDash": {"field": "m", "type": "nominal"}}},
  {"mark": {"type": "area", "fillOpacity": 0.07, "clip": true}, "encoding": {"y": {"field": "lo", "type": "quantitative", "stack": null}, "y2": {"field": "hi"}, "color": {"field": "m", "type": "nominal"}}}
 ]},
{"title": "Wildfire #10", "width": 274, "height": 173,
 "transform": [{"filter": "datum.p === 'Wildfire #10'"}],
 "encoding": {"x": {"field": "e", "type": "quantitative", "scale": {"domain": [-0.45, 9.45], "nice": false, "zero": false}, "axis": {"values": [0,2,4,6,8], "title": null}}},
 "layer": [
  {"mark": {"type": "line", "strokeWidth": 1, "clip": true}, "encoding": {"y": {"field": "v", "type": "quantitative", "scale": {"domain": [-4000,0], "nice": false, "zero": false}, "axis": {"values": [-4000,-3000,-2000,-1000,0], "title": null}}, "color": {"field": "m", "type": "nominal"}, "strokeDash": {"field": "m", "type": "nominal"}}},
  {"mark": {"type": "area", "fillOpacity": 0.07, "clip": true}, "encoding": {"y": {"field": "lo", "type": "quantitative", "stack": null}, "y2": {"field": "hi"}, "color": {"field": "m", "type": "nominal"}}}
 ]}
]
}
